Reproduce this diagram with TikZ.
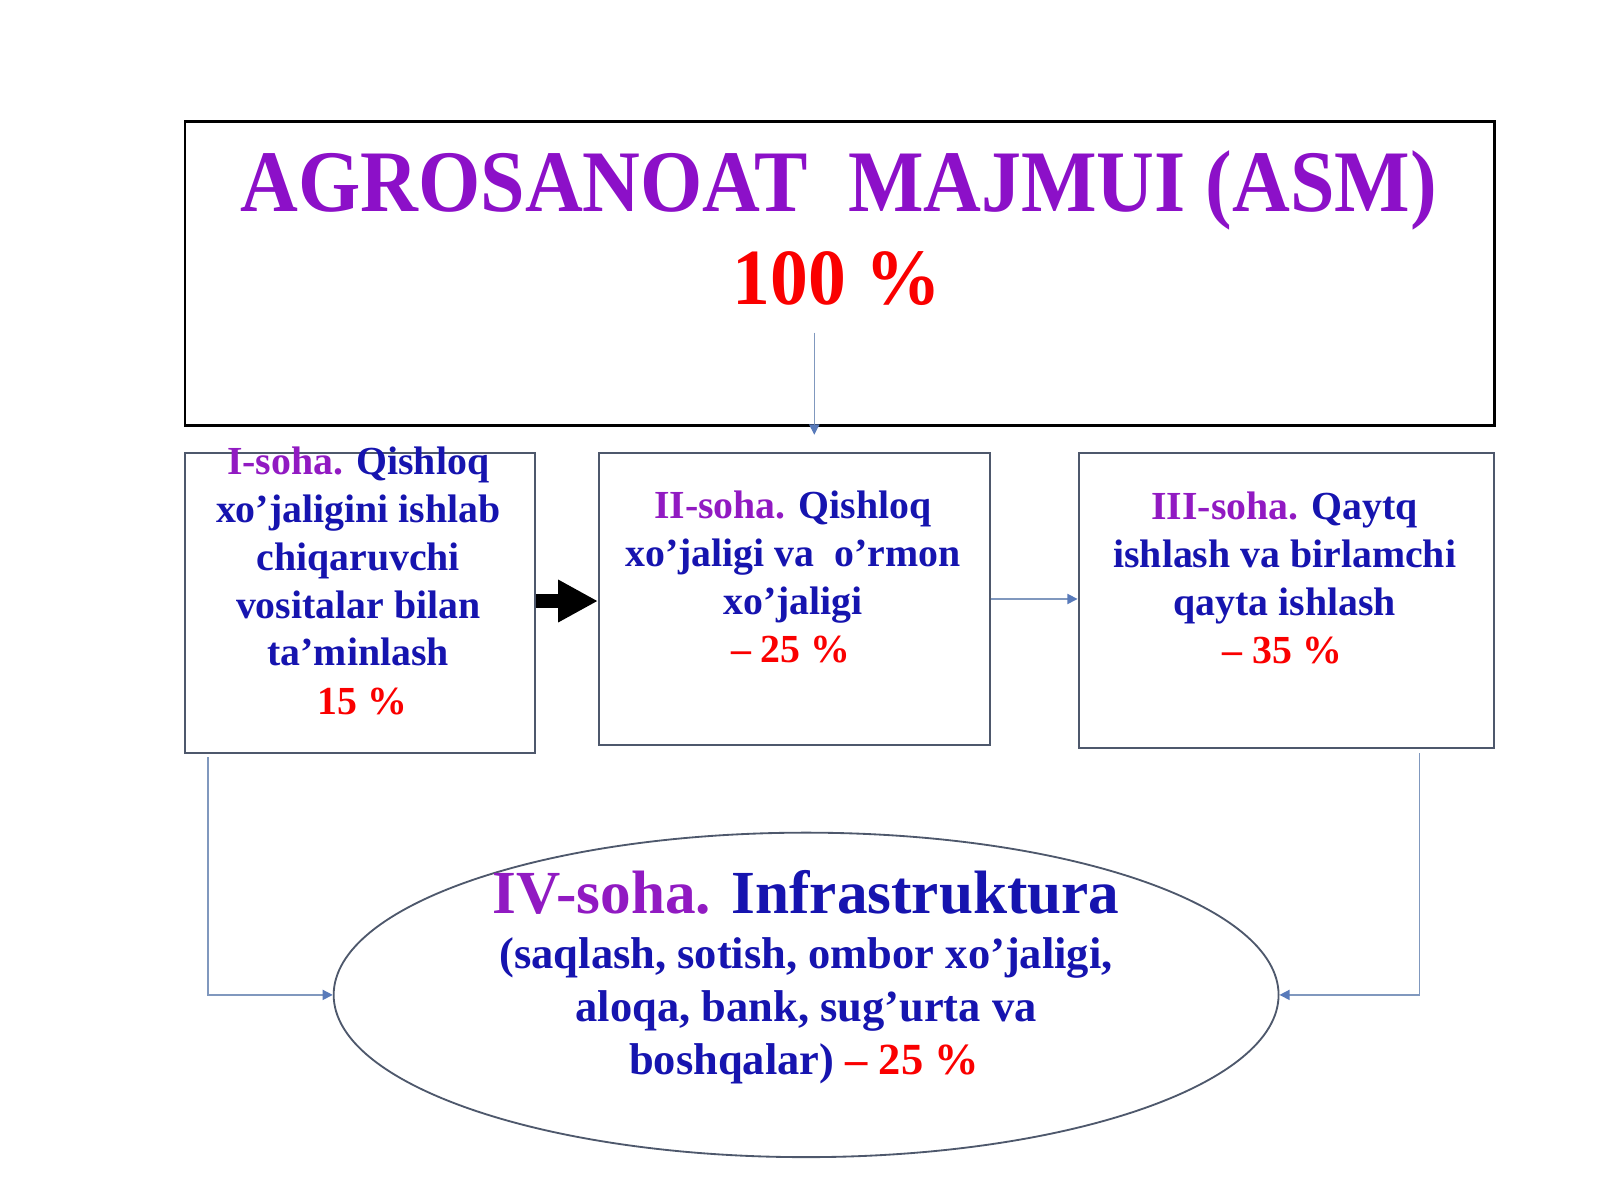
\documentclass[tikz,border=0pt]{standalone}
\usepackage{fontspec}
\setmainfont{Liberation Serif}
\usepackage{graphicx}
\usetikzlibrary{arrows.meta,shapes.geometric}
\definecolor{tpurple}{RGB}{140,16,200}
\definecolor{spurple}{RGB}{145,26,194}
\definecolor{tblue}{RGB}{22,20,175}
\definecolor{tred}{RGB}{250,0,0}
\definecolor{boxc}{RGB}{78,88,108}
\definecolor{connc}{RGB}{128,152,190}
\definecolor{headc}{RGB}{88,122,186}
\begin{document}
\begin{tikzpicture}[x=0.5pt,y=-0.5pt,
  boxst/.style={draw=boxc, line width=1pt, anchor=north west, inner sep=0pt},
  ln/.style={anchor=base, inner sep=0pt, font=\bfseries\fontsize{19.5}{23.5}\selectfont, text=tblue},
  eln/.style={anchor=base, inner sep=0pt, font=\bfseries\fontsize{21.8}{26}\selectfont, text=tblue},
  conn/.style={draw=connc, line width=0.7pt, -{Triangle[length=5pt,width=5pt,color=headc]}}
]
\useasboundingbox (0,0) rectangle (1568,1176);
\fill[white] (0,0) rectangle (1568,1176);

% top box
\node[draw=black, line width=1.3pt, anchor=north west, inner sep=0pt,
      minimum width=641.5pt, minimum height=149pt] (top) at (180,118) {};
\node[anchor=base, inner sep=0pt, text=tpurple, font=\bfseries\fontsize{43}{50}\selectfont]
  (title) at (822,207) {\scalebox{0.912}[1]{AGROSANOAT\ \ MAJMUI (ASM)}};
\node[anchor=base, inner sep=0pt, text=tred, font=\bfseries\fontsize{39}{46}\selectfont]
  (hund) at (820,298) {\scalebox{0.95}[1]{100 \%}};

% boxes
\node[boxst, minimum width=171.5pt, minimum height=147pt] (b1) at (180,443) {};
\node[boxst, minimum width=191.5pt, minimum height=143pt] (b2) at (586,443) {};
\node[boxst, minimum width=203.5pt, minimum height=144.5pt] (b3) at (1056,443) {};

% box 1 text
\node[ln] (b1a) at (351,465) {{\color{spurple}I-soha.} Qishloq};
\node[ln] (b1b) at (351,512) {xo’jaligini ishlab};
\node[ln] (b1c) at (351,559) {chiqaruvchi};
\node[ln] (b1d) at (351,606) {vositalar bilan};
\node[ln] (b1e) at (351,652) {ta’minlash};
\node[ln, text=tred] (b1f) at (355,700) {15 \%};

% box 2 text
\node[ln] (b2a) at (777,508) {{\color{spurple}II-soha.} Qishloq};
\node[ln] (b2b) at (777,555) {xo’jaligi va\ \ o’rmon};
\node[ln] (b2c) at (777,602) {xo’jaligi};
\node[ln, text=tred] (b2d) at (775,649) {– 25 \%};

% box 3 text
\node[ln] (b3a) at (1259,509) {{\color{spurple}III-soha.} Qaytq};
\node[ln] (b3b) at (1259,556) {ishlash va birlamchi};
\node[ln] (b3c) at (1259,603) {qayta ishlash};
\node[ln, text=tred] (b3d) at (1257,650) {– 35 \%};

% ellipse
\node[draw=boxc, line width=0.9pt, ellipse, inner sep=0pt,
      minimum width=463pt, minimum height=159pt] (e) at (790,975) {};
\node[anchor=base, inner sep=0pt, text=tblue, font=\bfseries\fontsize{30}{36}\selectfont]
  (ea) at (790,895) {{\color{spurple}IV-soha.} Infrastruktura};
\node[eln] (eb) at (790,949) {(saqlash, sotish, ombor xo’jaligi,};
\node[eln] (ec) at (790,1001) {aloqa, bank, sug’urta va};
\node[eln] (ed) at (788,1053) {boshqalar) {\color{tred}– 25 \%}};

% connectors
\coordinate (c0) at (798,326);
\coordinate (c1) at (798,426);
\draw[conn, line width=0.55pt] (c0) -- (c1);

\draw[line width=6.8pt, -{Triangle[length=19.5pt,width=19.5pt]}]
  ([yshift=1pt]b1.east) -- ([yshift=1pt]b1.east -| b2.west);
\draw[conn] (b2.east) -- (b2.east -| b3.west);

\draw[conn] ([xshift=12pt,yshift=-1.5pt]b1.south west) |- (e.west);
\draw[conn] ([xshift=-37pt,yshift=-2pt]b3.south east) |- (e.east);
\end{tikzpicture}
\end{document}
